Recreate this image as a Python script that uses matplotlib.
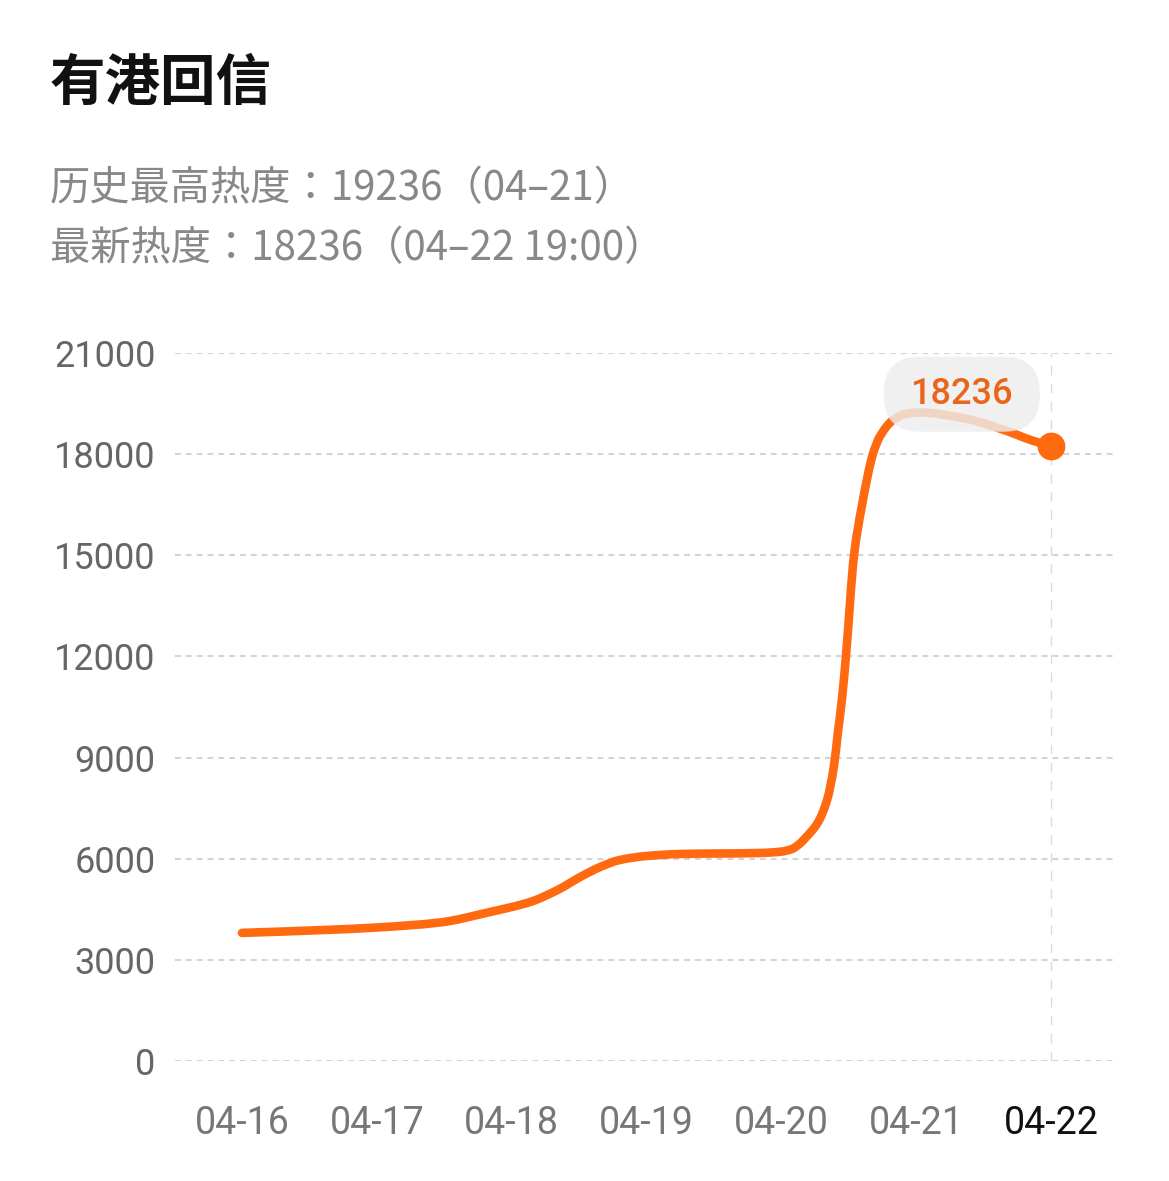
import matplotlib
matplotlib.use('Agg')
import matplotlib.pyplot as plt
import matplotlib.transforms as mtransforms
from matplotlib.path import Path
from matplotlib.patches import PathPatch, FancyBboxPatch
import numpy as np

plt.rcParams['font.family'] = ['Noto Sans CJK SC', 'DejaVu Sans']

# 数据：横轴为距离 04-16 的天数，纵轴为热度
days = [0.00, 0.64, 1.00, 1.47, 1.84, 2.14, 2.34, 2.51, 2.66, 2.80, 3.00, 3.25,
        3.84, 4.00, 4.08, 4.13, 4.18, 4.27, 4.34, 4.39, 4.42, 4.45, 4.48, 4.54,
        4.60, 4.68, 4.73, 4.83, 4.93, 5.03, 5.35, 5.65, 5.85, 6.00]
heat = [3800, 3890, 3960, 4110, 4420, 4720, 5070, 5460, 5760, 5960, 6080, 6140,
        6170, 6210, 6290, 6420, 6620, 7060, 7740, 8720, 9730, 10710, 12000, 15000,
        16500, 18000, 18510, 19010, 19200, 19236, 19070, 18720, 18420, 18236]

tick_labels = ['04-16', '04-17', '04-18', '04-19', '04-20', '04-21', '04-22']
y_ticks = [0, 3000, 6000, 9000, 12000, 15000, 18000, 21000]

title = '有港回信'
sub1 = '历史最高热度：19236（04–21）'
sub2 = '最新热度：18236（04–22 19:00）'
latest = 18236

orange = '#ff6a10'


def smooth_path(x, y):
    # 单调三次曲线（转成贝塞尔路径），只用于把折线画得圆滑
    x = np.asarray(x, float)
    y = np.asarray(y, float)
    h = np.diff(x)
    d = np.diff(y) / h
    m = np.zeros_like(x)
    m[0], m[-1] = d[0], d[-1]
    for k in range(1, len(x) - 1):
        if d[k - 1] * d[k] <= 0:
            m[k] = 0
        else:
            w1 = 2 * h[k] + h[k - 1]
            w2 = h[k] + 2 * h[k - 1]
            m[k] = (w1 + w2) / (w1 / d[k - 1] + w2 / d[k])
    verts = [(x[0], y[0])]
    codes = [Path.MOVETO]
    for i in range(len(h)):
        verts += [(x[i] + h[i] / 3, y[i] + m[i] * h[i] / 3),
                  (x[i + 1] - h[i] / 3, y[i + 1] - m[i + 1] * h[i] / 3),
                  (x[i + 1], y[i + 1])]
        codes += [Path.CURVE4] * 3
    return Path(verts, codes)


fig = plt.figure(figsize=(11.69, 11.81), dpi=100)
ax = fig.add_axes([175 / 1169, 1 - 1061 / 1181, 940 / 1169, 708 / 1181])

line = PathPatch(smooth_path(days, heat), fill=False, edgecolor=orange, linewidth=6.2,
                 capstyle='round', joinstyle='round', zorder=3)
ax.add_patch(line)
ax.plot(days[-1], heat[-1], 'o', color=orange, markersize=19, zorder=4, clip_on=False)

# 网格
for yv in y_ticks:
    ax.axhline(yv, color='#d4d4d4', linewidth=1.5, linestyle=(0, (2.8, 2.4)), zorder=1)
ax.axvline(days[-1], color='#dcdcdc', linewidth=1.0, linestyle=(0, (7, 6)), zorder=1)

ax.set_xlim(-0.497, 6.476)
ax.set_ylim(0, 21000)
ax.set_yticks(y_ticks)
ax.set_yticklabels([str(v) for v in y_ticks], fontfamily='Roboto', fontsize=26, color='#666666')
ax.set_xticks(range(len(tick_labels)))
ax.set_xticklabels(tick_labels, fontfamily='Roboto', fontsize=27, color='#777777')
ax.get_xticklabels()[-1].set_color('#111111')
ax.tick_params(axis='y', length=0, pad=14)
ax.tick_params(axis='x', length=0, pad=32)
for s in ax.spines.values():
    s.set_visible(False)

# 最新值标签（像素偏移，挂在最后一个点上）
anchor = mtransforms.ScaledTranslation(days[-1], heat[-1], ax.transData)
box_tr = mtransforms.Affine2D().translate(-89, 52) + anchor
box = FancyBboxPatch((-78, -37.5), 156, 75, boxstyle='round,pad=0,rounding_size=36',
                     transform=box_tr, fc='#ededed', ec='none', alpha=0.82,
                     zorder=5, clip_on=False)
ax.add_patch(box)
ax.text(0, 0, str(latest), transform=box_tr, ha='center', va='center', fontsize=26,
        fontweight='medium', color='#e8651a', fontfamily='Roboto', zorder=6)

fig.text(50 / 1169, 1 - 84 / 1181, title, fontsize=40, fontweight='bold', color='#111111',
         ha='left', va='center')
sub_font = ['Noto Sans CJK JP', 'DejaVu Sans']
fig.text(50 / 1169, 1 - 189 / 1181, sub1, fontsize=29, color='#888888', ha='left', va='center',
         family=sub_font)
fig.text(50 / 1169, 1 - 249 / 1181, sub2, fontsize=29, color='#888888', ha='left', va='center',
         family=sub_font)

fig.savefig('out.png', dpi=100, facecolor='white')
